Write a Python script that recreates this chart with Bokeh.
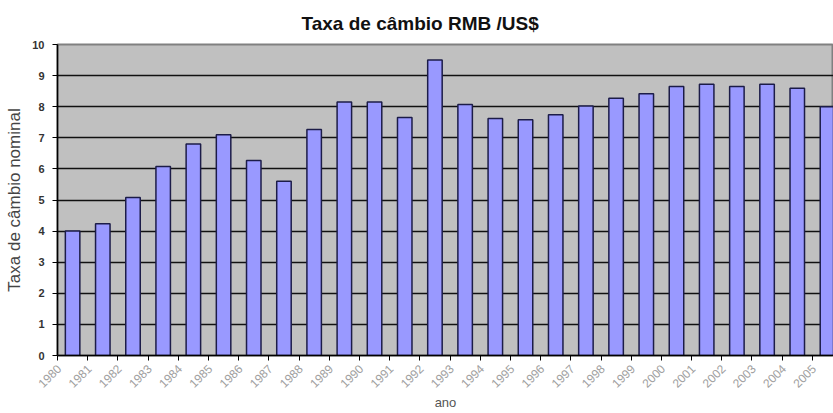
import math
from bokeh.plotting import figure
from bokeh.models import FixedTicker, Range1d, ColumnDataSource
from bokeh.embed import file_html
from bokeh.resources import INLINE

# Nominal RMB per US$ exchange rate, one value per year
years = [str(y) for y in range(1980, 2006)]
rates = [4.0, 4.24, 5.08, 6.08, 6.8, 7.1, 6.27, 5.6, 7.27, 8.15,
         8.15, 7.65, 9.5, 8.07, 7.62, 7.58, 7.74, 8.02, 8.27, 8.42,
         8.65, 8.72, 8.65, 8.72, 8.59, 8.0]
y_ticks = list(range(0, 11))

# Bars are centred inside unit-wide category slots
centers = [i + 0.5 for i in range(len(years))]
# Slanted year labels sit a little left of the slot centre
label_pos = [i + 0.05 for i in range(len(years))]
source = ColumnDataSource(data=dict(x=centers, rate=rates, year=years))

p = figure(width=833, height=413, output_backend="svg", toolbar_location=None,
           x_range=Range1d(0, 25.7), y_range=Range1d(0, 10),
           min_border_left=57, min_border_right=0, min_border_top=44,
           min_border_bottom=58)

p.title.text = "Taxa de câmbio RMB /US$"
p.title.align = "left"
p.title.text_font = "Liberation Sans"
p.title.text_font_size = "19px"
p.title.text_font_style = "bold"
p.title.text_color = "#111111"
p.title.offset = 244
p.title.standoff = 21

p.background_fill_color = "#C0C0C0"
p.border_fill_color = "white"
p.outline_line_color = "#808080"
p.outline_line_width = 2

p.vbar(x="x", top="rate", width=0.48, bottom=0, source=source,
       fill_color="#9999FF", line_color="#1C1C48", line_width=1.5)

# Horizontal grid
p.xgrid.visible = False
p.ygrid.grid_line_color = "#111111"
p.ygrid.grid_line_width = 1.5
p.ygrid.ticker = FixedTicker(ticks=y_ticks)

# Y axis
p.yaxis.ticker = FixedTicker(ticks=y_ticks)
p.yaxis.axis_label = "Taxa de câmbio nominal"
p.yaxis.axis_label_text_font = "Liberation Sans"
p.yaxis.axis_label_text_font_size = "17px"
p.yaxis.axis_label_text_font_style = "normal"
p.yaxis.axis_label_text_color = "#444444"
p.yaxis.axis_label_standoff = 5
p.yaxis.major_label_text_font = "Liberation Sans"
p.yaxis.major_label_text_font_size = "11px"
p.yaxis.major_label_text_font_style = "bold"
p.yaxis.major_label_text_color = "#333333"
p.yaxis.major_label_standoff = 8
p.yaxis.axis_line_color = "black"
p.yaxis.axis_line_width = 1.5
p.yaxis.major_tick_line_color = "black"
p.yaxis.major_tick_out = 5
p.yaxis.major_tick_in = 0
p.yaxis.minor_tick_line_color = None

# X axis: tick marks on slot boundaries, year labels under slot centres
p.xaxis.ticker = FixedTicker(ticks=label_pos,
                             minor_ticks=list(range(0, len(years) + 1)))
p.xaxis.major_label_overrides = {c: y for c, y in zip(label_pos, years)}
p.xaxis.major_label_orientation = math.pi / 4
p.xaxis.major_label_text_font = "Liberation Sans"
p.xaxis.major_label_text_font_size = "12px"
p.xaxis.major_label_text_color = "#a0a0a0"
p.xaxis.major_label_standoff = 5
p.xaxis.major_tick_line_color = None
p.xaxis.minor_tick_line_color = "black"
p.xaxis.minor_tick_out = 5
p.xaxis.minor_tick_in = 0
p.xaxis.axis_line_color = "black"
p.xaxis.axis_line_width = 1.5
p.xaxis.axis_label = "ano"
p.xaxis.axis_label_text_font = "Liberation Sans"
p.xaxis.axis_label_text_font_size = "13px"
p.xaxis.axis_label_text_font_style = "normal"
p.xaxis.axis_label_text_color = "#555555"
p.xaxis.axis_label_standoff = 0

open("out.html", "w").write(file_html(p, INLINE))
